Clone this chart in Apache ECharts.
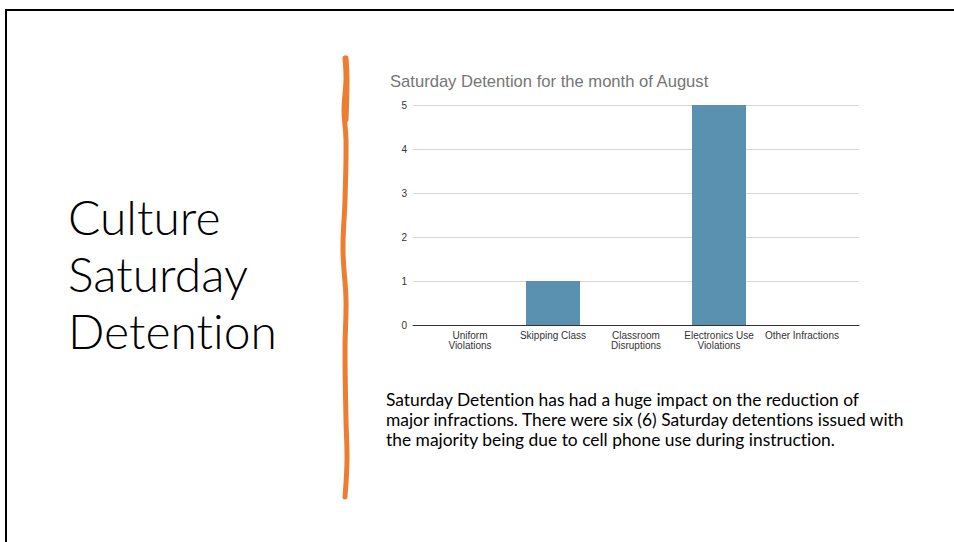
<!DOCTYPE html>
<html>
<head>
<meta charset="utf-8">
<script src="https://cdn.jsdelivr.net/npm/echarts@6/dist/echarts.min.js"></script>
<style>
html,body{margin:0;padding:0;background:#fff;}
#c{width:954px;height:542px;}
#c text, #c tspan{font-variant-ligatures:none !important;font-feature-settings:"liga" 0, "clig" 0, "calt" 0 !important;}
</style>
</head>
<body>
<div id="c"></div>
<script>
const categories = ["Uniform\nViolations", "Skipping Class", "Classroom\nDisruptions", "Electronics Use\nViolations", "Other Infractions"];
const detentions = [0, 1, 0, 5, 0];
const yTicks = [0, 1, 2, 3, 4, 5];
const chartTitle = "Saturday Detention for the month of August";
const slideTitle = ["Culture", "Saturday", "Detention"];
const bodyLines = [
  "Saturday Detention has had a huge impact on the reduction of",
  "major infractions. There were six (6) Saturday detentions issued with",
  "the majority being due to cell phone use during instruction."
];

const chart = echarts.init(document.getElementById('c'), null, {renderer: 'svg'});
const ff = 'Liberation Sans, Arial, sans-serif';
const option = {
  animation: false,
  backgroundColor: '#fff',
  title: {
    text: chartTitle, left: 385, top: 68,
    textStyle: {fontFamily: ff, fontSize: 16.6, fontWeight: 'normal', color: '#757575'}
  },
  grid: [
    {left: 413, right: 95, top: 105, bottom: 217},
    {left: 428.5, right: 110.5, top: 105, bottom: 217}
  ],
  xAxis: [
    {gridIndex: 0, type: 'value', min: 0, max: 1, axisLine: {show: true, onZero: false, lineStyle: {color: '#333', width: 1}},
     axisTick: {show: false}, axisLabel: {show: false}, splitLine: {show: false}},
    {gridIndex: 1, type: 'category', data: categories, axisLine: {show: false}, axisTick: {show: false},
     axisLabel: {fontFamily: ff, fontSize: 10, color: '#333', lineHeight: 10, margin: 5, interval: 0}}
  ],
  yAxis: [
    {gridIndex: 0, type: 'value', min: yTicks[0], max: yTicks[yTicks.length - 1], interval: 1,
     axisLine: {show: false}, axisTick: {show: false},
     axisLabel: {fontFamily: ff, fontSize: 10, color: '#333', margin: 6},
     splitLine: {lineStyle: {color: '#d6d6d6', width: 1}}},
    {gridIndex: 1, type: 'value', min: yTicks[0], max: yTicks[yTicks.length - 1], interval: 1, show: false}
  ],
  series: [{
    type: 'bar', xAxisIndex: 1, yAxisIndex: 1, data: detentions, barWidth: 54,
    itemStyle: {color: '#5a91b1'}
  }],
  graphic: [
    {type: 'line', shape: {x1: 5, y1: 10, x2: 954, y2: 10}, style: {stroke: '#000', lineWidth: 2}},
    {type: 'line', shape: {x1: 6, y1: 10, x2: 6, y2: 542}, style: {stroke: '#000', lineWidth: 2}},
    {type: 'polyline', shape: {smooth: 0.4, points: [[345,58],[346,80],[344,110],[346,140],[345,200],[343,250],[346,300],[345,350],[346,420],[347,460],[345,497]]},
     style: {stroke: '#ed7d31', lineWidth: 5, lineCap: 'round', fill: null}},
    {type: 'polyline', shape: {smooth: 0.4, points: [[346,58],[347,80],[346,120]]},
     style: {stroke: '#ed7d31', lineWidth: 5, lineCap: 'round', fill: null}},
    {type: 'text', left: 68, top: 188, style: {text: slideTitle.join('\n'), font: '300 48px Lato, sans-serif', lineHeight: 57, fill: '#000'}},
    {type: 'text', left: 386, top: 389, style: {text: bodyLines.join('\n'), font: '17.4px Lato, sans-serif', lineHeight: 20, fill: '#000'}}
  ]
};
chart.setOption(option);
</script>
</body>
</html>
